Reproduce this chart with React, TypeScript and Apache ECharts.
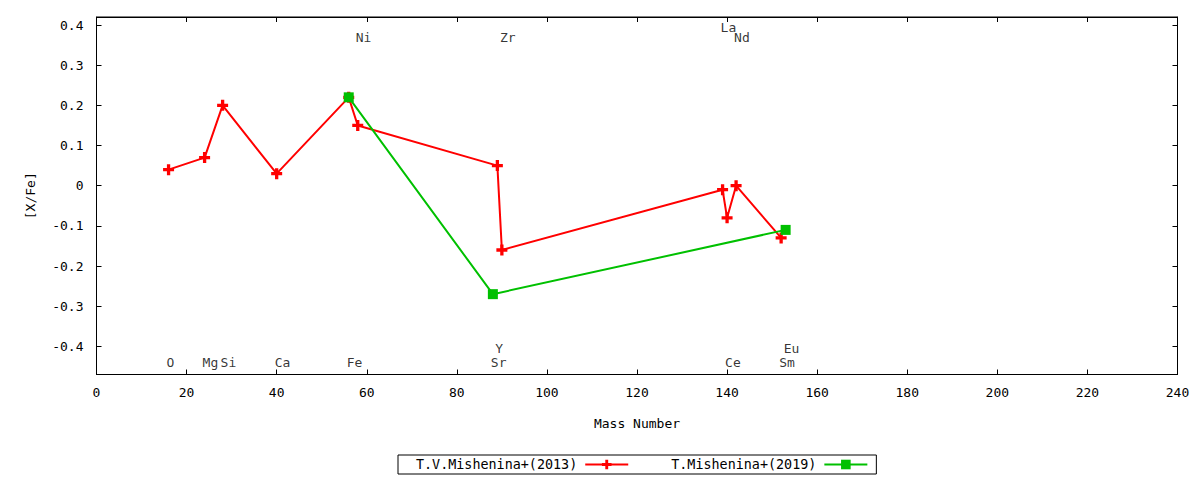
import React, { useEffect, useRef } from "react";
import * as echarts from "echarts";

const xTickMin = 0;
const xTickMax = 240;
const xTickStep = 20;
const yMin = -0.47;
const yMax = 0.42;

const series2013Name = "T.V.Mishenina+(2013)";
const series2019Name = "T.Mishenina+(2019)";

const mass2013 = [16, 24, 28, 40, 56, 58, 89, 90, 139, 140, 142, 152];
const values2013 = [0.04, 0.07, 0.2, 0.03, 0.22, 0.15, 0.05, -0.16, -0.01, -0.08, 0.0, -0.13];

const mass2019 = [56, 88, 153];
const values2019 = [0.22, -0.27, -0.11];

const elementNames = ["O", "Mg", "Si", "Ca", "Fe", "Ni", "Sr", "Y", "Zr", "La", "Ce", "Nd", "Sm", "Eu"];
const elementMass = [16, 24, 28, 40, 56, 58, 88, 89, 90, 139, 140, 142, 152, 153];
const elementLabelY = [-0.44, -0.44, -0.44, -0.44, -0.44, 0.37, -0.44, -0.405, 0.37, 0.395, -0.44, 0.37, -0.44, -0.405];

const FONT = "DejaVu Sans Mono";
const PLUS = "path://M3.5,0H6.5V3.5H10V6.5H6.5V10H3.5V6.5H0V3.5H3.5Z";

export default function App() {
  const ref = useRef<HTMLDivElement>(null);
  useEffect(() => {
    if (!ref.current) return;
    const chart = echarts.init(ref.current, null, { renderer: "svg" });
    const xCommon = {
      type: "value" as const,
      min: xTickMin,
      max: xTickMax,
      interval: xTickStep,
      splitLine: { show: false },
      axisLine: { show: true, onZero: false, lineStyle: { color: "#000", width: 1 } },
      axisTick: { show: true, inside: true, length: 5, lineStyle: { color: "#000" } },
    };
    const yCommon = {
      type: "value" as const,
      min: yMin,
      max: yMax,
      splitNumber: 9,
      splitLine: { show: false },
      axisLine: { show: true, onZero: false, lineStyle: { color: "#000", width: 1 } },
      axisTick: { show: true, inside: true, length: 5, lineStyle: { color: "#000" } },
    };
    chart.setOption({
      animation: false,
      backgroundColor: "#fff",
      textStyle: { fontFamily: FONT },
      grid: {
        left: 96.5,
        right: 22.5,
        top: 17,
        bottom: 105.5,
        show: true,
        borderColor: "#000",
        borderWidth: 1,
        containLabel: false,
      },
      legend: {
        left: 398,
        top: 455,
        align: "right",
        orient: "horizontal",
        padding: [3, 8, 3, 18],
        itemGap: 42,
        itemWidth: 43,
        itemHeight: 12,
        borderColor: "#000",
        borderWidth: 1,
        borderRadius: 0,
        data: [series2013Name, series2019Name],
        textStyle: { fontFamily: FONT, fontSize: 13.4, color: "#000", padding: [0, 3, 0, 0] },
      },
      xAxis: [
        {
          ...xCommon,
          position: "bottom",
          name: "Mass Number",
          nameLocation: "middle",
          nameGap: 42,
          nameTextStyle: { fontFamily: FONT, fontSize: 13, color: "#000" },
          axisLabel: { show: true, margin: 11, fontFamily: FONT, fontSize: 13, color: "#000" },
        },
        {
          ...xCommon,
          position: "top",
          axisLabel: { show: false },
        },
      ],
      yAxis: [
        {
          ...yCommon,
          position: "left",
          name: "[X/Fe]",
          nameLocation: "middle",
          nameGap: 60,
          nameRotate: 90,
          nameTextStyle: { fontFamily: FONT, fontSize: 13, color: "#000" },
          axisLabel: {
            show: true,
            margin: 13,
            fontFamily: FONT,
            fontSize: 13,
            color: "#000",
            showMinLabel: false,
            showMaxLabel: false,
          },
        },
        {
          ...yCommon,
          position: "right",
          axisLabel: { show: false },
        },
      ],
      series: [
        {
          name: series2013Name,
          type: "line",
          xAxisIndex: 0,
          yAxisIndex: 0,
          data: mass2013.map((m, i) => [m, values2013[i]]),
          color: "#ff0000",
          lineStyle: { color: "#ff0000", width: 2 },
          itemStyle: { color: "#ff0000" },
          symbol: PLUS,
          symbolSize: 11,
          showAllSymbol: true,
          z: 3,
        },
        {
          name: series2019Name,
          type: "line",
          xAxisIndex: 0,
          yAxisIndex: 0,
          data: mass2019.map((m, i) => [m, values2019[i]]),
          color: "#00c000",
          lineStyle: { color: "#00c000", width: 2 },
          itemStyle: { color: "#00c000" },
          symbol: "rect",
          symbolSize: 10,
          showAllSymbol: true,
          z: 4,
        },
        {
          name: "labels",
          type: "scatter",
          xAxisIndex: 0,
          yAxisIndex: 0,
          silent: true,
          symbolSize: 0,
          data: elementMass.map((m, i) => ({ name: elementNames[i], value: [m, elementLabelY[i]] })),
          label: {
            show: true,
            position: "right",
            distance: -2,
            formatter: "{b}",
            fontFamily: FONT,
            fontSize: 13,
            color: "#000",
          },
          z: 2,
        },
      ],
    });
    return () => chart.dispose();
  }, []);
  return (
    <div
      ref={ref}
      style={{ position: "fixed", left: 0, top: 0, width: 1200, height: 480, background: "#fff" }}
    />
  );
}
